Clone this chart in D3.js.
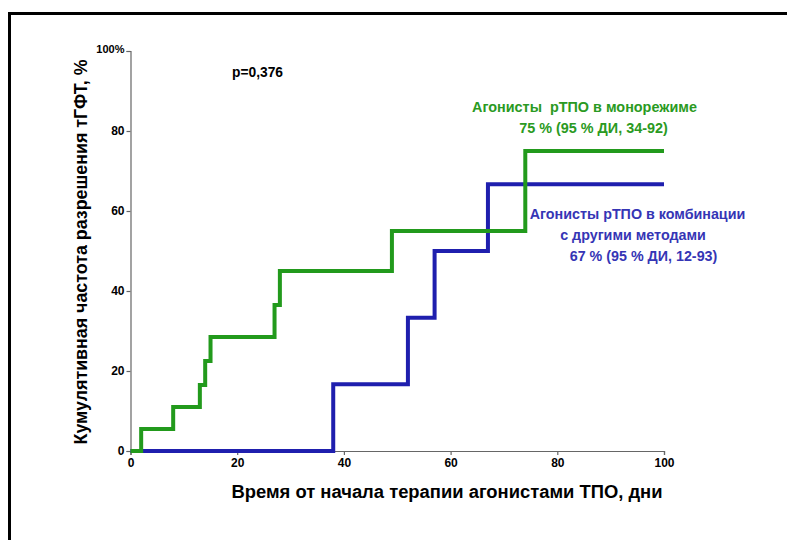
<!DOCTYPE html>
<html>
<head>
<meta charset="utf-8">
<script src="https://cdn.jsdelivr.net/npm/d3@7"></script>
<style>
  html, body { margin: 0; padding: 0; background: #fff; }
  svg { display: block; }
  text { font-family: "Liberation Sans", Arial, sans-serif; }
</style>
</head>
<body>
<svg id="chart" width="787" height="540"></svg>
<script>
// Kaplan–Meier style cumulative curves (days, %)
const monoDays   = [0, 2, 8, 13, 14, 15, 27, 28, 49, 74, 100];
const monoValues = [0, 5.5, 11, 16.5, 22.5, 28.5, 36.5, 45, 55, 75, 75];

const comboDays   = [0, 38, 52, 57, 67, 100];
const comboValues = [0, 16.7, 33.3, 50, 66.7, 66.7];

const xTicks = [0, 20, 40, 60, 80, 100];
const yTicks = [0, 20, 40, 60, 80, 100];
const yTickLabels = ["0", "20", "40", "60", "80", "100%"];

const xTitle = "Время от начала терапии агонистами ТПО, дни";
const yTitle = "Кумулятивная частота разрешения тГФТ, %";
const pText = "p=0,376";
const monoLabel = ["Агонисты  рТПО в монорежиме", "75 % (95 % ДИ, 34-92)"];
const comboLabel = ["Агонисты рТПО в комбинации", "с другими методами", "67 % (95 % ДИ, 12-93)"];

const green = "#229a1c";
const blue = "#1f1fae";
const greenText = "#2a9a22";
const blueText = "#3535b5";

const svg = d3.select("#chart");

// outer frame
svg.append("rect")
  .attr("x", 9.5).attr("y", 13.5)
  .attr("width", 800).attr("height", 560)
  .attr("fill", "none").attr("stroke", "#000").attr("stroke-width", 3);

const x = d3.scaleLinear().domain([0, 100]).range([130.5, 664]);
const y = d3.scaleLinear().domain([0, 100]).range([451, 51]);

// axes
const xAxis = d3.axisBottom(x).tickValues(xTicks).tickSize(4).tickPadding(3).tickFormat(d3.format("d"));
const yAxis = d3.axisLeft(y).tickValues(yTicks).tickSize(4).tickPadding(2)
  .tickFormat((d, i) => yTickLabels[i]);

const gx = svg.append("g").attr("transform", `translate(0,${y(0)})`).call(xAxis);
const gy = svg.append("g").attr("transform", `translate(${x(0)},0)`).call(yAxis);

[gx, gy].forEach(g => {
  g.select(".domain").attr("stroke", "#666").attr("stroke-width", 1.2);
  g.selectAll(".tick line").attr("stroke", "#666").attr("stroke-width", 1.2);
  g.selectAll(".tick text").attr("fill", "#000").attr("font-weight", "bold")
    .attr("font-size", 12).attr("font-family", "Liberation Sans, Arial, sans-serif");
});
gy.selectAll(".tick text").filter(d => d === 100).attr("font-size", 11).attr("dy", "0.1em");

// step curves
const line = d3.line()
  .x(d => x(d[0]))
  .y(d => y(d[1]))
  .curve(d3.curveStepAfter);

svg.append("path")
  .datum(comboDays.map((d, i) => [d, comboValues[i]]))
  .attr("d", line)
  .attr("fill", "none").attr("stroke", blue).attr("stroke-width", 4);

svg.append("path")
  .datum(monoDays.map((d, i) => [d, monoValues[i]]))
  .attr("d", line)
  .attr("fill", "none").attr("stroke", green).attr("stroke-width", 4);

// titles
svg.append("text")
  .attr("x", 447).attr("y", 498)
  .attr("text-anchor", "middle")
  .attr("font-weight", "bold").attr("font-size", 18)
  .attr("textLength", 431).attr("lengthAdjust", "spacingAndGlyphs")
  .text(xTitle);

svg.append("text")
  .attr("transform", `translate(87,252) rotate(-90)`)
  .attr("text-anchor", "middle")
  .attr("font-weight", "bold").attr("font-size", 17.5)
  .attr("textLength", 385).attr("lengthAdjust", "spacingAndGlyphs")
  .text(yTitle);

svg.append("text")
  .attr("x", 232).attr("y", 77)
  .attr("font-weight", "bold").attr("font-size", 13.8)
  .text(pText);

// series annotations
const monoPos = [[584.5, 112], [593.5, 133]];
monoLabel.forEach((t, i) => {
  svg.append("text")
    .attr("x", monoPos[i][0]).attr("y", monoPos[i][1])
    .attr("text-anchor", "middle")
    .attr("font-weight", "bold").attr("font-size", 14.4)
    .attr("fill", greenText)
    .attr("xml:space", "preserve")
    .text(t);
});

const comboPos = [[637.5, 219], [633, 240], [643.5, 261]];
comboLabel.forEach((t, i) => {
  svg.append("text")
    .attr("x", comboPos[i][0]).attr("y", comboPos[i][1])
    .attr("text-anchor", "middle")
    .attr("font-weight", "bold").attr("font-size", 14.3)
    .attr("fill", blueText)
    .text(t);
});
</script>
</body>
</html>
